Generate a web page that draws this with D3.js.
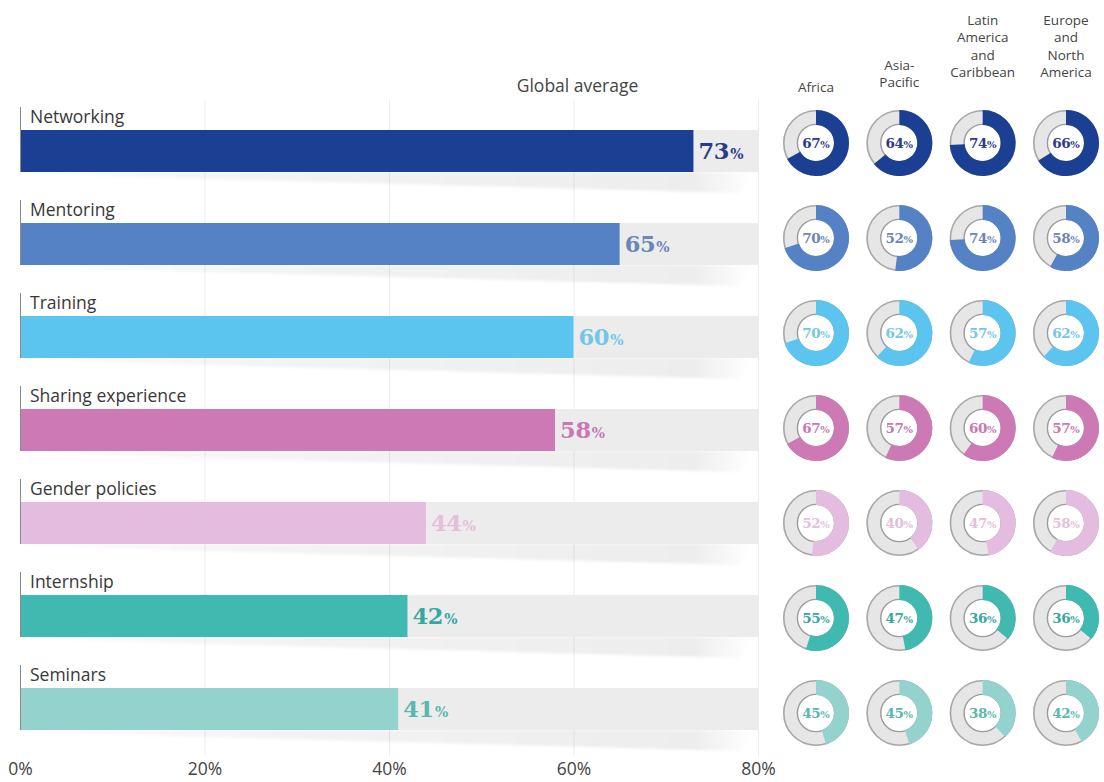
<!DOCTYPE html>
<html>
<head>
<meta charset="utf-8">
<script src="https://cdn.jsdelivr.net/npm/d3@7"></script>
<style>
  html, body { margin: 0; padding: 0; background: #ffffff; }
  svg { display: block; }
</style>
</head>
<body>
<svg id="chart" width="1104" height="782"></svg>
<script>
// Support measures: global average and per-region shares (%)
const categories = ["Networking", "Mentoring", "Training", "Sharing experience", "Gender policies", "Internship", "Seminars"];
const globalAverage = [73, 65, 60, 58, 44, 42, 41];
const regions = ["Africa", "Asia-Pacific", "Latin America and Caribbean", "Europe and North America"];
const regionHeaderLines = [["Africa"], ["Asia-", "Pacific"], ["Latin", "America", "and", "Caribbean"], ["Europe", "and", "North", "America"]];
const africa = [67, 70, 70, 67, 52, 55, 45];
const asiaPacific = [64, 52, 62, 57, 40, 47, 45];
const latinAmerica = [74, 74, 57, 60, 47, 36, 38];
const europeNorthAmerica = [66, 58, 62, 57, 58, 36, 42];
const xTicks = [0, 20, 40, 60, 80];

const barColors = ["#1a3f93", "#5482c4", "#5bc4ef", "#cd79b5", "#e3bcdf", "#40bab1", "#93d2cd"];
const textColors = ["#2b3b8c", "#6a86b8", "#74c6e8", "#c978b1", "#e4bedb", "#35a9a0", "#5db6ae"];

const regionValues = [africa, asiaPacific, latinAmerica, europeNorthAmerica];

const svg = d3.select("#chart");
const sans = "'Open Sans', 'Noto Sans', sans-serif";
const slab = "'DejaVu Serif', serif";

// Scales
const x = d3.scaleLinear().domain([0, 80]).range([20, 758]);
const yBand = d3.scaleBand().domain(categories).range([103, 754]).paddingInner(0);
const barTopOffset = 27, barH = 42;
const xDonut = d3.scalePoint().domain(regions).range([816, 1066]);
const yDonut = d3.scalePoint().domain(categories).range([143, 713]);

const defs = svg.append("defs");
const shadowGrad = defs.append("linearGradient").attr("id", "shadowGrad")
  .attr("x1", "0%").attr("x2", "100%").attr("y1", "0%").attr("y2", "0%");
shadowGrad.append("stop").attr("offset", "0%").attr("stop-color", "#000").attr("stop-opacity", 0.015);
shadowGrad.append("stop").attr("offset", "40%").attr("stop-color", "#000").attr("stop-opacity", 0.05);
shadowGrad.append("stop").attr("offset", "92%").attr("stop-color", "#000").attr("stop-opacity", 0.07);
shadowGrad.append("stop").attr("offset", "100%").attr("stop-color", "#000").attr("stop-opacity", 0.0);
defs.append("filter").attr("id", "soft").attr("x", "-5%").attr("y", "-50%").attr("width", "110%").attr("height", "200%")
  .append("feGaussianBlur").attr("stdDeviation", 1.5);

// Vertical grid lines
svg.append("g").selectAll("line").data(xTicks.filter(d => d > 0)).join("line")
  .attr("x1", d => x(d) + 0.5).attr("x2", d => x(d) + 0.5)
  .attr("y1", 100).attr("y2", 756)
  .attr("stroke", "#ededed").attr("stroke-width", 1);

// Header over the bars
svg.append("text").attr("x", x(60) + 4).attr("y", 92)
  .attr("text-anchor", "middle").attr("font-family", sans).attr("font-size", 17.5)
  .attr("fill", "#444").text("Global average");

// Rows of bars
const rows = svg.append("g").selectAll("g").data(categories).join("g")
  .attr("transform", c => `translate(0,${yBand(c)})`);

// Soft shadow under each track
rows.append("path")
  .attr("d", () => {
    const b = barTopOffset + barH;
    return `M${x(0)},${b} L${x(80) - 6},${b} L${x(80) - 18},${b + 21} L${x(0) + 150},${b + 6} L${x(0)},${b + 1} Z`;
  })
  .attr("fill", "url(#shadowGrad)").attr("filter", "url(#soft)");

// Track (0-80%)
rows.append("rect")
  .attr("x", x(0)).attr("y", barTopOffset)
  .attr("width", x(80) - x(0)).attr("height", barH)
  .attr("fill", "#ececec");

// Value bar
rows.append("rect")
  .attr("x", x(0)).attr("y", barTopOffset)
  .attr("width", (c, i) => x(globalAverage[i]) - x(0)).attr("height", barH)
  .attr("fill", (c, i) => barColors[i]);

// Left marker line
rows.append("line")
  .attr("x1", x(0) + 0.5).attr("x2", x(0) + 0.5)
  .attr("y1", 4).attr("y2", barTopOffset + barH)
  .attr("stroke", "#8a8a8a").attr("stroke-width", 1);

// Category label
rows.append("text")
  .attr("x", x(0) + 10).attr("y", 20)
  .attr("font-family", sans).attr("font-size", 17.5).attr("fill", "#383838")
  .text(c => c);

// Value label
const vl = rows.append("text")
  .attr("x", (c, i) => x(globalAverage[i]) + 5)
  .attr("y", barTopOffset + barH / 2 + 8)
  .attr("font-family", slab).attr("font-weight", "bold")
  .attr("fill", (c, i) => textColors[i]);
vl.append("tspan").attr("font-size", 22.5).attr("letter-spacing", -0.3).text((c, i) => globalAverage[i]);
vl.append("tspan").attr("font-size", 14).attr("dx", 1).text("%");

// X axis
const axis = svg.append("g").attr("transform", "translate(0,760)")
  .call(d3.axisBottom(x).tickValues(xTicks).tickFormat(d => d + "%").tickSize(0).tickPadding(3));
axis.select(".domain").remove();
axis.selectAll("text").attr("font-family", sans).attr("font-size", 17.5).attr("fill", "#444");

// Region headers
const headerBase = [92, 87, 77, 77];
const headers = svg.append("g").selectAll("text").data(regions).join("text")
  .attr("text-anchor", "middle").attr("font-family", sans).attr("font-size", 13.5)
  .attr("fill", "#444");
headers.selectAll("tspan").data((r, i) => regionHeaderLines[i].map((t, k, a) => ({ t, k, n: a.length, r, i })))
  .join("tspan")
  .attr("x", d => xDonut(d.r))
  .attr("y", d => headerBase[d.i] - (d.n - 1 - d.k) * 17.5)
  .text(d => d.t);

// Donut rings
const outerR = 33, innerR = 18;
const ringArc = d3.arc().innerRadius(innerR).outerRadius(outerR);
const cells = [];
categories.forEach((c, i) => regions.forEach((r, j) => cells.push({ c, r, i, v: regionValues[j][i] })));

const donuts = svg.append("g").selectAll("g").data(cells).join("g")
  .attr("transform", d => `translate(${xDonut(d.r)},${yDonut(d.c)})`);

donuts.append("path")
  .attr("d", ringArc({ startAngle: 0, endAngle: 2 * Math.PI }))
  .attr("fill", "#e6e6e6");
donuts.append("circle").attr("r", outerR - 0.8).attr("fill", "none")
  .attr("stroke", "#a8a8a8").attr("stroke-width", 1.6);
donuts.append("circle").attr("r", innerR + 0.6).attr("fill", "none")
  .attr("stroke", "#9c9c9c").attr("stroke-width", 1.4);
donuts.append("path")
  .attr("d", d => ringArc({ startAngle: 0, endAngle: 2 * Math.PI * d.v / 100 }))
  .attr("fill", d => barColors[d.i]);

const dl = donuts.append("text")
  .attr("text-anchor", "middle").attr("y", 5)
  .attr("font-family", slab).attr("font-weight", "bold")
  .attr("fill", d => textColors[d.i]);
dl.append("tspan").attr("font-size", 13.5).attr("letter-spacing", -0.4).text(d => d.v);
dl.append("tspan").attr("font-size", 10).text("%");
</script>
</body>
</html>
